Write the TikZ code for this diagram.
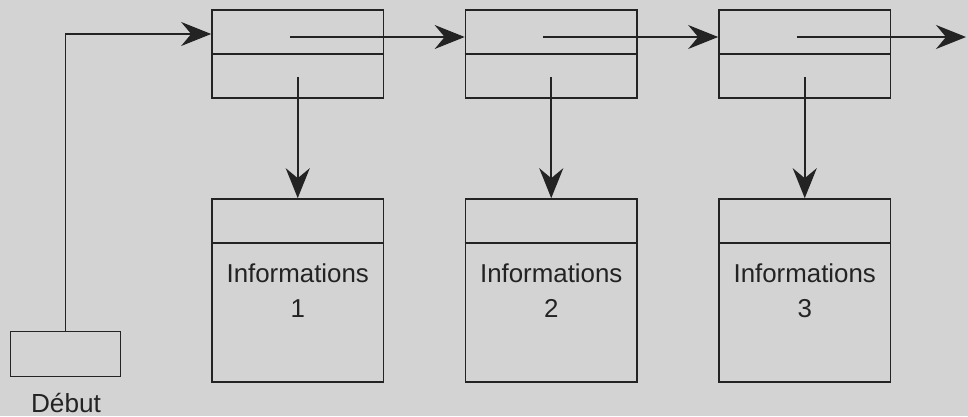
\documentclass[tikz,border=0pt]{standalone}
\usepackage{fontspec}
\setmainfont{Liberation Sans}
\usetikzlibrary{arrows.meta,positioning}
\definecolor{paper}{RGB}{211,211,211}
\definecolor{ink}{RGB}{35,35,35}
\tikzset{
  wire/.style={draw=ink,line width=1.1pt},
  ptr/.style={wire,-{Stealth[length=0.75cm,width=0.6cm,inset=0.25cm]}},
  cell/.style={wire,minimum width=4.29cm,minimum height=2.2cm,inner sep=0pt},
  infobox/.style={wire,minimum width=4.29cm,minimum height=4.575cm,inner sep=0pt,
    align=center,text=ink,font=\fontsize{18.4}{25}\selectfont},
  startbox/.style={wire,minimum width=2.75cm,minimum height=1.125cm,inner sep=0pt}
}
\begin{document}
\begin{tikzpicture}[x=0.025cm,y=-0.025cm]
  \fill[paper] (0,0) rectangle (968,416);
  \useasboundingbox (0,0) rectangle (968,416);
  % the three cells of the list and what they point to
  \foreach \i/\x in {1/297.75,2/551.25,3/804.75}{
    \node[cell] (cell\i) at (\x,54) {};
    \draw[wire] (cell\i.west) -- (cell\i.east);
    \node[infobox] (info\i) at (\x,290.5) {Informations\\\i};
    \draw[wire] (info\i.west |- 0,243) -- (info\i.east |- 0,243);
    \coordinate (p\i) at (\x-8,37);
    \coordinate (d\i) at (\x,77);
    \draw[ptr] (d\i) -- (info\i.north);
  }
  % next pointers
  \coordinate (nil) at (966,37);
  \draw[ptr] (p1) -- (p1 -| cell2.west);
  \draw[ptr] (p2) -- (p2 -| cell3.west);
  \draw[ptr] (p3) -- (nil);
  % head of the list
  \node[startbox] (debut) at (65.7,354.2) {};
  \node[text=ink,font=\fontsize{18.6}{22}\selectfont] (debutlabel) at (66,403) {Début};
  \coordinate (in1) at (cell1.west |- 0,34);
  \draw[ptr] (debut.north) |- (in1);
\end{tikzpicture}
\end{document}
